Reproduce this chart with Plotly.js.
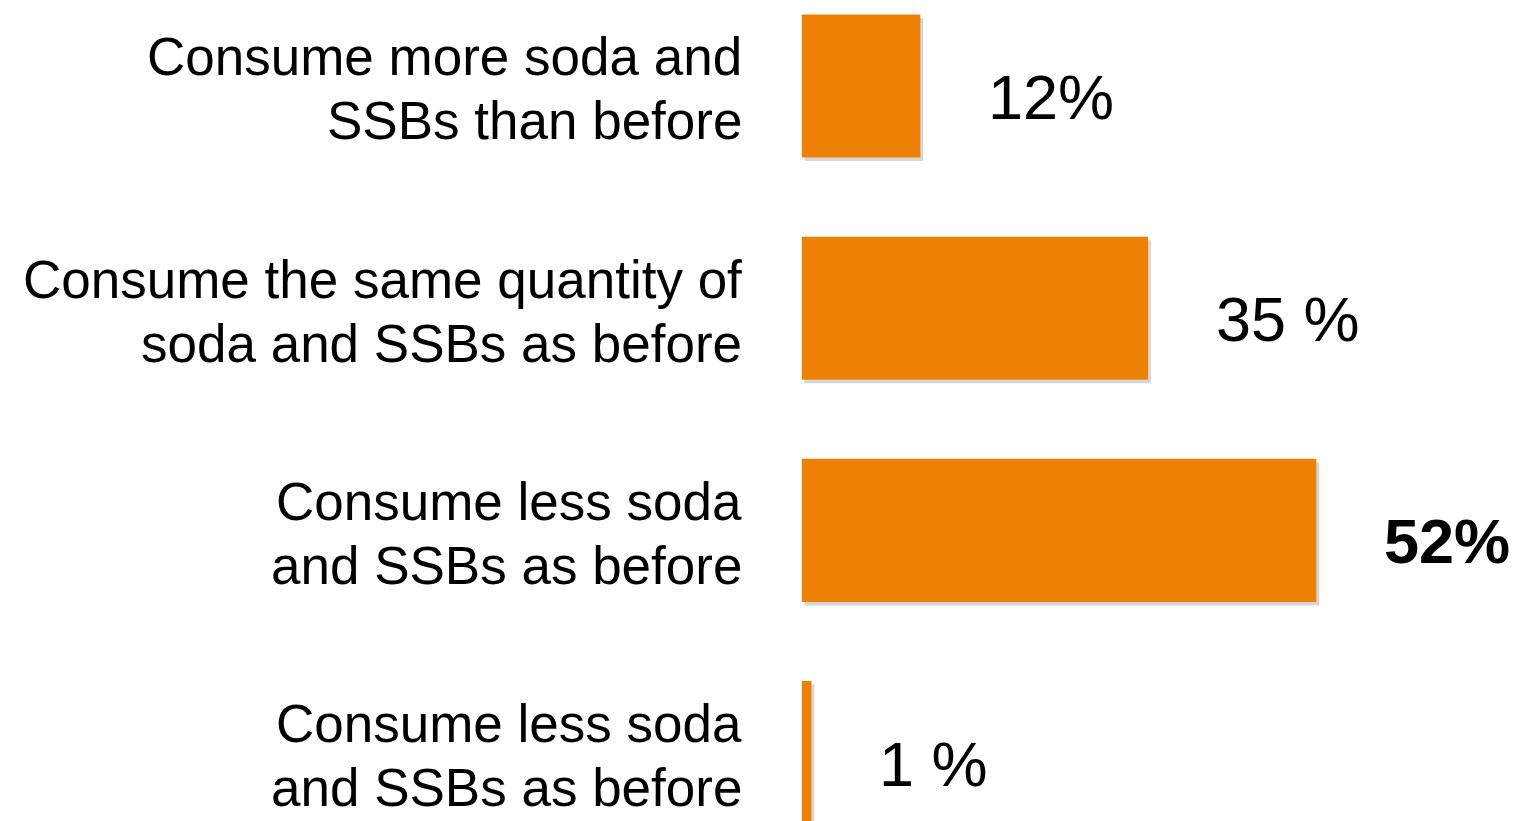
<!DOCTYPE html>
<html>
<head>
<meta charset="utf-8">
<script src="https://cdn.plot.ly/plotly-3.0.1.min.js"></script>
<style>
  html, body { margin: 0; padding: 0; background: #ffffff; }
  #chart { width: 1518px; height: 821px; }
</style>
</head>
<body>
<div id="chart"></div>
<script>
// ---- data ----
const categories = [
  "Consume more soda and<br>SSBs than before",
  "Consume the same quantity of<br>soda and SSBs as before",
  "Consume less soda<br>and SSBs as before",
  "Consume less soda<br>and SSBs as before"
];
const values = [12, 35, 52, 1];
const valueLabels = ["12%", "35 %", "52%", "1 %"];

// ---- styling ----
const BAR_COLOR = "#EC8106";
const FONT = "Arial, 'Liberation Sans', Helvetica, sans-serif";
const W = 1518, H = 821;
const AXIS_X0 = 801.5;            // pixel where bars start
const PX_PER_UNIT = 9.9;
const BAR_WIDTH = 0.644;
const LABEL_GAP = 66;

const positions = categories.map((c, i) => i);
const maxIdx = values.indexOf(Math.max(...values));

const shadow = {
  type: "bar",
  orientation: "h",
  y: positions,
  x: values,
  base: 0.3,
  width: BAR_WIDTH,
  offset: -BAR_WIDTH / 2 + 0.016,
  marker: { color: "rgba(0,0,0,0.16)", line: { width: 0 } },
  hoverinfo: "skip",
  showlegend: false
};

const bars = {
  type: "bar",
  orientation: "h",
  y: positions,
  x: values,
  width: BAR_WIDTH,
  marker: { color: BAR_COLOR, line: { width: 0 } },
  hoverinfo: "x",
  showlegend: false
};

const annotations = [];
categories.forEach((cat, i) => {
  const lines = cat.split("<br>");
  lines.forEach((ln, j) => {
    annotations.push({
      xref: "x", yref: "y",
      x: 0, y: positions[i],
      xanchor: "right", yanchor: "middle",
      xshift: -58,
      yshift: j === 0 ? 29 : -35,
      text: ln,
      showarrow: false,
      align: "right",
      font: { family: FONT, size: 53, color: "#000000" }
    });
  });
  annotations.push({
    xref: "x", yref: "y",
    x: values[i], y: positions[i],
    xanchor: "left", yanchor: "middle",
    xshift: LABEL_GAP,
    yshift: -11,
    text: valueLabels[i],
    showarrow: false,
    font: { family: FONT, size: 63, color: "#000000",
            weight: i === maxIdx ? "bold" : "normal" }
  });
});

const layout = {
  width: W, height: H,
  margin: { l: 0, r: 0, t: 0, b: 0, pad: 0 },
  paper_bgcolor: "#ffffff",
  plot_bgcolor: "#ffffff",
  barmode: "overlay",
  showlegend: false,
  xaxis: {
    domain: [AXIS_X0 / W, 1],
    range: [0, (W - AXIS_X0) / PX_PER_UNIT],
    visible: false, showgrid: false, zeroline: false, fixedrange: true
  },
  yaxis: {
    range: [3.308, -0.387],
    visible: false, showgrid: false, zeroline: false, fixedrange: true
  },
  annotations: annotations,
  font: { family: FONT }
};

Plotly.newPlot("chart", [shadow, bars], layout, { displayModeBar: false, staticPlot: true });
</script>
</body>
</html>
